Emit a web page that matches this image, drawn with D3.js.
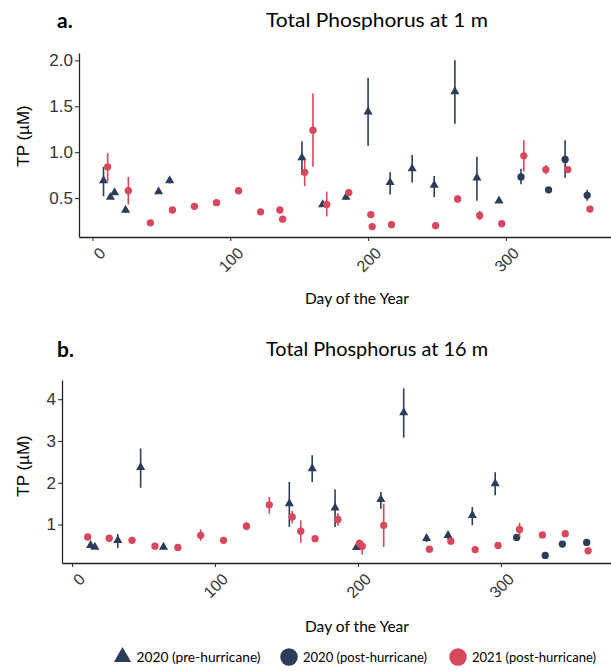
<!DOCTYPE html>
<html>
<head>
<meta charset="utf-8">
<script src="https://cdn.jsdelivr.net/npm/d3@7"></script>
<style>
  body { margin: 0; background: #fff; }
  svg { display: block; }
</style>
</head>
<body>
<div id="chart"></div>
<script>
// rows are [day, TP, lower, upper]; missing bounds mean no visible error bar
var surfacePre2020 = [
    [8, 0.69, 0.52, 0.84], [13, 0.51], [16, 0.56], [24, 0.37, 0.34, 0.40],
    [48, 0.57], [56, 0.69, 0.66, 0.72], [152, 0.94, 0.75, 1.12], [167, 0.43],
    [184, 0.51, 0.48, 0.55], [200, 1.44, 1.07, 1.81], [216, 0.67, 0.54, 0.78],
    [232, 0.82, 0.67, 0.97], [248, 0.64, 0.51, 0.74], [263, 1.66, 1.31, 2.00],
    [279, 0.72, 0.47, 0.95], [295, 0.47, 0.45, 0.50]
];
var surfacePost2020 = [
    [311, 0.73, 0.65, 0.82], [331, 0.59, 0.56, 0.62], [343, 0.92, 0.72, 1.13],
    [359, 0.53, 0.47, 0.59]
];
var surface2021 = [
    [11, 0.84, 0.68, 0.99], [26, 0.58, 0.43, 0.73], [42, 0.23], [58, 0.37],
    [74, 0.41], [90, 0.45], [106, 0.58, 0.55, 0.61], [122, 0.35],
    [136, 0.37, 0.34, 0.40], [138, 0.27], [154, 0.78, 0.63, 0.92],
    [160, 1.24, 0.84, 1.64], [170, 0.43, 0.30, 0.57], [186, 0.56, 0.53, 0.60],
    [202, 0.32, 0.29, 0.35], [203, 0.19], [217, 0.21], [249, 0.20],
    [265, 0.49, 0.45, 0.53], [281, 0.31, 0.26, 0.36], [297, 0.22],
    [313, 0.96, 0.79, 1.13], [329, 0.81, 0.76, 0.86], [345, 0.81, 0.78, 0.84],
    [361, 0.38]
];

var deepPre2020 = [
    [13, 0.50], [16, 0.46], [32, 0.62, 0.44, 0.77], [48, 2.37, 1.88, 2.82],
    [64, 0.46], [152, 1.50, 0.94, 2.02], [168, 2.34, 2.02, 2.66],
    [184, 1.40, 0.94, 1.84], [199, 0.45], [216, 1.60, 1.38, 1.78],
    [232, 3.68, 3.08, 4.26], [248, 0.67, 0.58, 0.75], [263, 0.74, 0.64, 0.82],
    [280, 1.22, 0.98, 1.42], [296, 1.98, 1.70, 2.25]
];
var deepPost2020 = [
    [311, 0.69], [331, 0.26], [343, 0.53], [360, 0.57]
];
var deep2021 = [
    [11, 0.70], [26, 0.67, 0.60, 0.74], [42, 0.62], [58, 0.48], [74, 0.45],
    [90, 0.74, 0.61, 0.88], [106, 0.62], [122, 0.96, 0.86, 1.06],
    [138, 1.47, 1.26, 1.66], [154, 1.18, 1.03, 1.33], [160, 0.84, 0.56, 1.10],
    [170, 0.66], [186, 1.12, 0.97, 1.27], [201, 0.55, 0.45, 0.64],
    [203, 0.48, 0.28, 0.60], [218, 0.98, 0.46, 1.50], [250, 0.41],
    [265, 0.60, 0.55, 0.68], [282, 0.40], [298, 0.50], [313, 0.88, 0.70, 1.04],
    [329, 0.75], [345, 0.78], [361, 0.37]
];

var xTicks = [0, 100, 200, 300];
var surfaceYTicks = [0.5, 1.0, 1.5, 2.0];
var deepYTicks = [1, 2, 3, 4];
var legendLabels = ['2020 (pre-hurricane)', '2020 (post-hurricane)', '2021 (post-hurricane)'];

var navy = '#2b3d59';
var red = '#d8475c';
var titleFont = 'Lato, "Open Sans", sans-serif';
var axisFont = '"Liberation Sans", Arial, sans-serif';

var svg = d3.select('#chart').append('svg')
    .attr('width', 611)
    .attr('height', 671);

// draws one panel inside box, with its own x and y domains
function drawPanel(box, tag, title, xDomain, yDomain, yTicks, yFormat, seriesList) {
    var x = d3.scaleLinear().domain(xDomain).range([box.left, box.right]);
    var y = d3.scaleLinear().domain(yDomain).range([box.bottom, box.top]);

    // axes
    var xAxis = svg.append('g')
        .attr('transform', 'translate(0,' + box.bottom + ')')
        .call(d3.axisBottom(x).tickValues(xTicks).tickSize(4).tickSizeOuter(0).tickFormat(''));
    var yAxis = svg.append('g')
        .attr('transform', 'translate(' + box.left + ',0)')
        .call(d3.axisLeft(y).tickValues(yTicks).tickSize(4).tickSizeOuter(0).tickFormat(yFormat));
    [xAxis, yAxis].forEach(function(g) {
        g.select('.domain').style('stroke', '#222').style('stroke-width', 1.3);
        g.selectAll('.tick line').style('stroke', '#333').style('stroke-width', 1.1);
    });
    yAxis.selectAll('.tick text')
        .attr('x', -6)
        .style('font-family', axisFont)
        .style('font-size', '17px')
        .style('fill', '#333');

    // rotated x tick labels
    svg.append('g').selectAll('text')
        .data(xTicks)
        .join('text')
        .attr('transform', function(d) {
            return 'translate(' + (x(d) + 6) + ',' + (box.bottom + 9) + ') rotate(-45)';
        })
        .attr('text-anchor', 'end')
        .attr('dy', '0.72em')
        .style('font-family', axisFont)
        .style('font-size', '16px')
        .style('fill', '#333')
        .text(function(d) { return d; });

    // titles
    svg.append('text')
        .attr('x', 57).attr('y', box.titleY + 1)
        .style('font-family', titleFont).style('font-weight', 'bold').style('font-size', '21px')
        .text(tag);
    svg.append('text')
        .attr('x', 377).attr('y', box.titleY)
        .attr('text-anchor', 'middle')
        .attr('textLength', 222).attr('lengthAdjust', 'spacingAndGlyphs')
        .style('font-family', titleFont).style('font-size', '20px')
        .text(title);
    svg.append('text')
        .attr('x', 357).attr('y', box.xTitleY)
        .attr('text-anchor', 'middle')
        .attr('textLength', 104).attr('lengthAdjust', 'spacingAndGlyphs')
        .style('font-family', titleFont).style('font-size', '16px')
        .text('Day of the Year');
    svg.append('text')
        .attr('transform', 'translate(29,' + box.yTitleMid + ') rotate(-90)')
        .attr('text-anchor', 'middle')
        .style('font-family', axisFont).style('font-size', '17px')
        .text('TP (\u00b5M)');

    // error bars then markers
    seriesList.forEach(function(s) {
        var g = svg.append('g');
        g.selectAll('line')
            .data(s.rows.filter(function(r) { return r.length > 2; }))
            .join('line')
            .attr('x1', function(r) { return x(r[0]); })
            .attr('x2', function(r) { return x(r[0]); })
            .attr('y1', function(r) { return y(r[2]); })
            .attr('y2', function(r) { return y(r[3]); })
            .style('stroke', s.color)
            .style('stroke-width', 1.6);
        g.selectAll('path')
            .data(s.rows)
            .join('path')
            .attr('transform', function(r) { return 'translate(' + x(r[0]) + ',' + y(r[1]) + ')'; })
            .attr('d', d3.symbol().type(s.shape).size(s.shape === d3.symbolTriangle ? 36 : 42))
            .style('fill', s.color);
    });
}

drawPanel({left: 79, right: 611, top: 53, bottom: 237, titleY: 27, xTitleY: 304, yTitleMid: 136},
    'a.', 'Total Phosphorus at 1 m', [-9.8, 376.3], [0.076, 2.08], surfaceYTicks, d3.format('.1f'), [
        {rows: surfacePre2020, color: navy, shape: d3.symbolTriangle},
        {rows: surfacePost2020, color: navy, shape: d3.symbolCircle},
        {rows: surface2021, color: red, shape: d3.symbolCircle}
    ]);

drawPanel({left: 62, right: 611, top: 380, bottom: 563, titleY: 356, xTitleY: 632, yTitleMid: 466},
    'b.', 'Total Phosphorus at 16 m', [-7, 377], [0.078, 4.46], deepYTicks, d3.format('d'), [
        {rows: deepPre2020, color: navy, shape: d3.symbolTriangle},
        {rows: deepPost2020, color: navy, shape: d3.symbolCircle},
        {rows: deep2021, color: red, shape: d3.symbolCircle}
    ]);

// legend
var legendItems = [
    {label: legendLabels[0], color: navy, shape: d3.symbolTriangle, x: 122.5},
    {label: legendLabels[1], color: navy, shape: d3.symbolCircle, x: 289},
    {label: legendLabels[2], color: red, shape: d3.symbolCircle, x: 458}
];
var legend = svg.append('g');
legendItems.forEach(function(d) {
    legend.append('path')
        .attr('transform', 'translate(' + d.x + ',657)')
        .attr('d', d3.symbol().type(d.shape).size(d.shape === d3.symbolTriangle ? 130 : 240))
        .style('fill', d.color);
    legend.append('text')
        .attr('x', d.x + 14).attr('y', 662)
        .attr('textLength', 124).attr('lengthAdjust', 'spacingAndGlyphs')
        .style('font-family', titleFont).style('font-size', '13px')
        .text(d.label);
});
</script>
</body>
</html>
